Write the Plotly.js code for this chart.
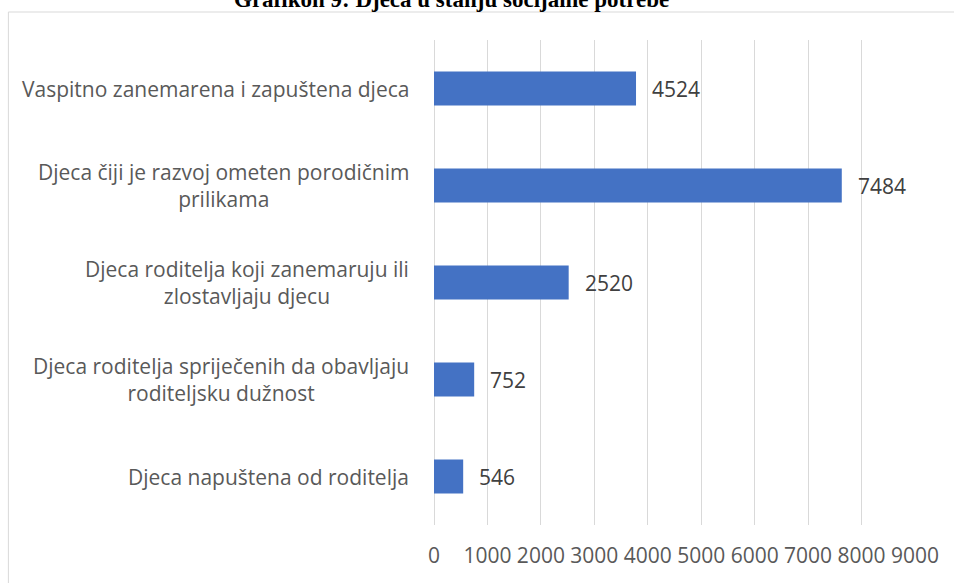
<!DOCTYPE html>
<html>
<head>
<meta charset="utf-8">
<script src="https://cdn.plot.ly/plotly-3.0.1.min.js"></script>
<style>html,body{margin:0;padding:0;background:#fff;}#chart{width:954px;height:583px;}</style>
</head>
<body>
<div id="chart"></div>
<script>
// Data
var chartTitle = "Grafikon 9: Djeca u stanju socijalne potrebe";
var categories = [
  "Vaspitno zanemarena i zapuštena djeca",
  "Djeca čiji je razvoj ometen porodičnim<br>prilikama",
  "Djeca roditelja koji zanemaruju ili<br>zlostavljaju djecu",
  "Djeca roditelja spriječenih da obavljaju<br>roditeljsku dužnost",
  "Djeca napuštena od roditelja"
];
// bar lengths as drawn in the picture
var barValues = [3780, 7630, 2520, 752, 546];
// data labels as printed in the picture
var dataLabels = ["4524", "7484", "2520", "752", "546"];
var tickValues = [0, 1000, 2000, 3000, 4000, 5000, 6000, 7000, 8000, 9000];
var tickTexts = ["0", "1000", "2000", "3000", "4000", "5000", "6000", "7000", "8000", "9000"];

var FONT = "Open Sans, Noto Sans, sans-serif";

var trace = {
  type: "bar",
  orientation: "h",
  x: barValues,
  y: categories,
  marker: {color: "#4472C4", line: {width: 0}},
  hoverinfo: "none"
};

var annotations = [];
categories.forEach(function (c, i) {
  annotations.push({
    xref: "paper", yref: "y", x: 0, y: c,
    xanchor: "right", yanchor: "middle", align: "center",
    xshift: -23, showarrow: false,
    text: c,
    font: {family: FONT, size: 21, color: "#595959"}
  });
  annotations.push({
    xref: "x", yref: "y", x: barValues[i], y: c,
    xanchor: "left", yanchor: "middle",
    xshift: 14, showarrow: false,
    text: dataLabels[i],
    font: {family: FONT, size: 21, color: "#404040"}
  });
});
annotations.push({
  xref: "paper", yref: "paper", x: (452 - 434.3) / 481.2, y: (525 + 1) / 485,
  xanchor: "center", yanchor: "middle", showarrow: false,
  text: "<b>" + chartTitle + "</b>",
  font: {family: "Liberation Serif, Times New Roman, serif", size: 23, color: "#000000"}
});

var layout = {
  width: 954, height: 583,
  margin: {l: 434.3, r: 38.5, t: 40, b: 58, pad: 0},
  paper_bgcolor: "#ffffff", plot_bgcolor: "#ffffff",
  showlegend: false,
  bargap: 0.65,
  xaxis: {
    range: [0, 9000], tickvals: tickValues, ticktext: tickTexts,
    showgrid: true, gridcolor: "#d9d9d9", gridwidth: 1,
    zeroline: true, zerolinecolor: "#d9d9d9", zerolinewidth: 1,
    showline: false, ticks: "",
    tickfont: {family: FONT, size: 21, color: "#595959"},
    ticklabelstandoff: 16,
    fixedrange: true
  },
  yaxis: {
    type: "category", autorange: "reversed",
    showticklabels: false, showgrid: false, zeroline: false, showline: false, ticks: "",
    fixedrange: true
  },
  annotations: annotations,
  shapes: [{
    type: "rect", xref: "paper", yref: "paper",
    x0: (8.5 - 434.3) / 481.2, x1: 1.3,
    y0: -0.3, y1: (525 - 12) / 485,
    line: {color: "#d9d9d9", width: 1}, fillcolor: "rgba(0,0,0,0)", layer: "below"
  }]
};

Plotly.newPlot("chart", [trace], layout, {displayModeBar: false, staticPlot: true});
</script>
</body>
</html>
